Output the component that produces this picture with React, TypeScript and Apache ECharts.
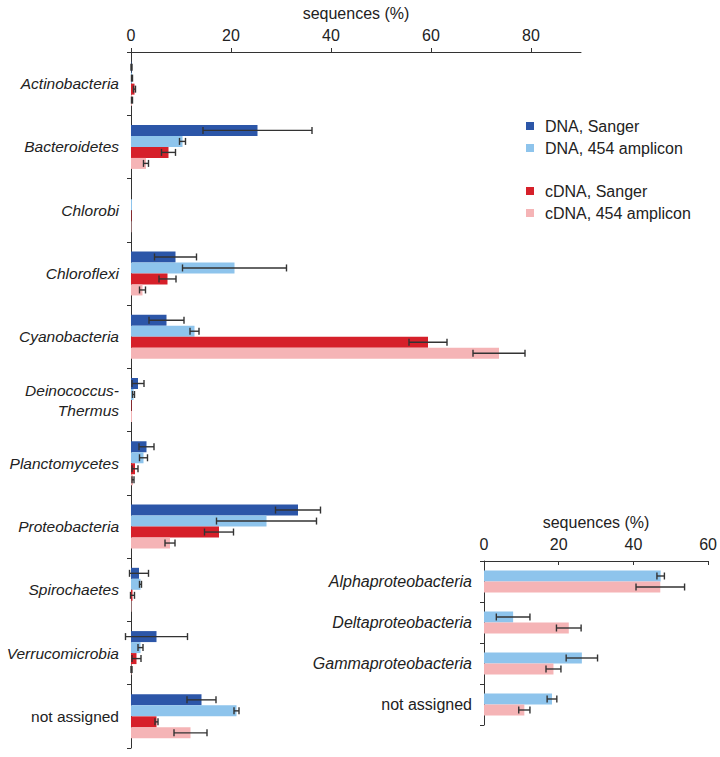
import React, { useEffect, useRef } from 'react';
import * as echarts from 'echarts';

// ---- main chart data (sequences, %) ----
const phyla = [
  'Actinobacteria', 'Bacteroidetes', 'Chlorobi', 'Chloroflexi', 'Cyanobacteria',
  'Deinococcus-Thermus', 'Planctomycetes', 'Proteobacteria', 'Spirochaetes',
  'Verrucomicrobia', 'not assigned',
];
const dnaSanger = [0.1, 25.3, 0, 8.9, 7.1, 1.4, 3.1, 33.4, 1.6, 5.1, 14.1];
const dnaSangerErr = [0.1, 10.9, 0, 4.2, 3.5, 1.2, 1.5, 4.5, 1.9, 6.2, 2.9];
const dna454 = [0.2, 10.3, 0.2, 20.7, 12.7, 0.5, 2.5, 27.1, 1.9, 1.9, 21.1];
const dna454Err = [0.1, 0.6, 0, 10.4, 0.9, 0.2, 0.8, 10.0, 0.2, 0.5, 0.5];
const cdnaSanger = [0.7, 7.5, 0.1, 7.3, 59.4, 0.1, 0.8, 17.6, 0.3, 1.1, 5.1];
const cdnaSangerErr = [0.2, 1.4, 0, 1.7, 3.8, 0, 0.6, 2.9, 0.4, 0.9, 0.3];
const cdna454 = [0.2, 3.0, 0.1, 2.3, 73.6, 0.2, 0.4, 7.8, 0.1, 0.1, 11.9];
const cdna454Err = [0.1, 0.5, 0, 0.6, 5.2, 0, 0.2, 1.0, 0, 0.1, 3.3];
const mainTicks = [0, 20, 40, 60, 80];

// ---- inset (Proteobacteria classes) ----
const subgroups = ['Alphaproteobacteria', 'Deltaproteobacteria', 'Gammaproteobacteria', 'not assigned'];
const subDna454 = [47.3, 7.8, 26.2, 18.2];
const subDna454Err = [1.0, 4.5, 4.2, 1.3];
const subCdna454 = [47.2, 22.7, 18.6, 10.8];
const subCdna454Err = [6.5, 3.3, 2.0, 1.5];

const seriesNames = ['DNA, Sanger', 'DNA, 454 amplicon', 'cDNA, Sanger', 'cDNA, 454 amplicon'];
const colors = ['#2c56a8', '#8ec4ec', '#d6202a', '#f5b4b6'];
const FONT = '"Liberation Sans", Arial, Helvetica, sans-serif';
const BAR_W = 11;

function errorSeries(xIdx: number, yIdx: number, vals: number[][], errs: number[][]) {
  const n = vals.length;
  const data: number[][] = [];
  vals.forEach((arr, s) => {
    arr.forEach((v, c) => {
      if (errs[s][c] > 0) data.push([c, s, v, errs[s][c]]);
    });
  });
  return {
    type: 'custom',
    xAxisIndex: xIdx,
    yAxisIndex: yIdx,
    z: 5,
    silent: true,
    clip: false,
    encode: { x: 2, y: 0 },
    data,
    renderItem: (_p: any, api: any) => {
      const c = api.value(0);
      const s = api.value(1);
      const v = api.value(2);
      const e = api.value(3);
      const a = api.coord([v - e, c]);
      const b = api.coord([v + e, c]);
      const y = a[1] + (s - (n - 1) / 2) * BAR_W;
      const h = 3.5;
      const style = { stroke: '#333', lineWidth: 1.4 };
      return {
        type: 'group',
        children: [
          { type: 'line', shape: { x1: a[0], y1: y, x2: b[0], y2: y }, style },
          { type: 'line', shape: { x1: a[0], y1: y - h, x2: a[0], y2: y + h }, style },
          { type: 'line', shape: { x1: b[0], y1: y - h, x2: b[0], y2: y + h }, style },
        ],
      };
    },
  };
}

function labelFormatter(v: string) {
  if (v === 'not assigned') return '{n|' + v + '}';
  return v
    .replace('-', '-\n')
    .split('\n')
    .map((line) => '{i|' + line + '}')
    .join('\n');
}

export default function App() {
  const ref = useRef<HTMLDivElement>(null);
  useEffect(() => {
    if (!ref.current) return;
    const chart = echarts.init(ref.current, undefined, { renderer: 'svg' });
    const axisLineStyle = { color: '#333', width: 1 };
    const textColor = '#222';
    const mainVals = [dnaSanger, dna454, cdnaSanger, cdna454];
    const mainErrs = [dnaSangerErr, dna454Err, cdnaSangerErr, cdna454Err];
    const legendBase = {
      orient: 'vertical', left: 521,
      itemWidth: 8, itemHeight: 8, itemGap: 6, icon: 'rect', selectedMode: false,
      textStyle: { fontSize: 16, color: textColor, fontFamily: FONT, padding: [0, 0, 0, 6] },
    };
    const option: any = {
      animation: false,
      backgroundColor: '#ffffff',
      textStyle: { fontFamily: FONT },
      grid: [
        { left: 131, top: 51, width: 450, height: 697 },
        { left: 484, top: 561, width: 228, height: 164 },
      ],
      legend: [
        { ...legendBase, data: ['DNA, Sanger', 'DNA, 454 amplicon'], top: 113 },
        { ...legendBase, data: ['cDNA, Sanger', 'cDNA, 454 amplicon'], top: 178 },
      ],
      xAxis: [
        {
          type: 'value', gridIndex: 0, position: 'top', min: 0, max: 90,
          name: 'sequences (%)', nameLocation: 'middle', nameGap: 31,
          nameTextStyle: { fontSize: 16, color: textColor, fontFamily: FONT },
          axisLine: { show: true, lineStyle: axisLineStyle },
          axisTick: { show: true, length: 4, customValues: mainTicks, lineStyle: axisLineStyle },
          axisLabel: { customValues: mainTicks, fontSize: 16, color: textColor, margin: 9, fontFamily: FONT },
          splitLine: { show: false },
        },
        {
          type: 'value', gridIndex: 1, position: 'top', min: 0, max: 60, interval: 20,
          name: 'sequences (%)', nameLocation: 'middle', nameGap: 31,
          nameTextStyle: { fontSize: 16, color: textColor, fontFamily: FONT },
          axisLine: { show: true, lineStyle: axisLineStyle },
          axisTick: { show: true, inside: true, length: 4, lineStyle: axisLineStyle },
          axisLabel: { fontSize: 16, color: textColor, margin: 9, fontFamily: FONT, showMaxLabel: true },
          splitLine: { show: false },
        },
      ],
      yAxis: [
        {
          type: 'category', gridIndex: 0, data: phyla, inverse: true,
          axisLine: { show: true, lineStyle: axisLineStyle },
          axisTick: { show: true, length: 4, lineStyle: axisLineStyle },
          axisLabel: {
            margin: 12, formatter: labelFormatter,
            rich: {
              i: { fontStyle: 'italic', fontSize: 15.5, color: textColor, fontFamily: FONT, lineHeight: 20 },
              n: { fontSize: 15.5, color: textColor, fontFamily: FONT, lineHeight: 20 },
            },
          },
        },
        {
          type: 'category', gridIndex: 1, data: subgroups, inverse: true,
          axisLine: { show: true, lineStyle: axisLineStyle },
          axisTick: { show: true, length: 4, lineStyle: axisLineStyle },
          axisLabel: {
            margin: 12, formatter: labelFormatter,
            rich: {
              i: { fontStyle: 'italic', fontSize: 16, color: textColor, fontFamily: FONT, lineHeight: 20 },
              n: { fontSize: 16, color: textColor, fontFamily: FONT, lineHeight: 20 },
            },
          },
        },
      ],
      series: [
        ...mainVals.map((vals, i) => ({
          type: 'bar', name: seriesNames[i], xAxisIndex: 0, yAxisIndex: 0,
          data: vals, barWidth: BAR_W, barGap: '0%',
          itemStyle: { color: colors[i] },
        })),
        {
          type: 'bar', name: seriesNames[1], xAxisIndex: 1, yAxisIndex: 1,
          data: subDna454, barWidth: BAR_W, barGap: '0%', itemStyle: { color: colors[1] },
        },
        {
          type: 'bar', name: seriesNames[3], xAxisIndex: 1, yAxisIndex: 1,
          data: subCdna454, barWidth: BAR_W, barGap: '0%', itemStyle: { color: colors[3] },
        },
        errorSeries(0, 0, mainVals, mainErrs),
        errorSeries(1, 1, [subDna454, subCdna454], [subDna454Err, subCdna454Err]),
      ],
    };
    chart.setOption(option);
    return () => chart.dispose();
  }, []);
  return (
    <div
      ref={ref}
      style={{ position: 'fixed', left: 0, top: 0, width: 720, height: 757, background: '#fff' }}
    />
  );
}
